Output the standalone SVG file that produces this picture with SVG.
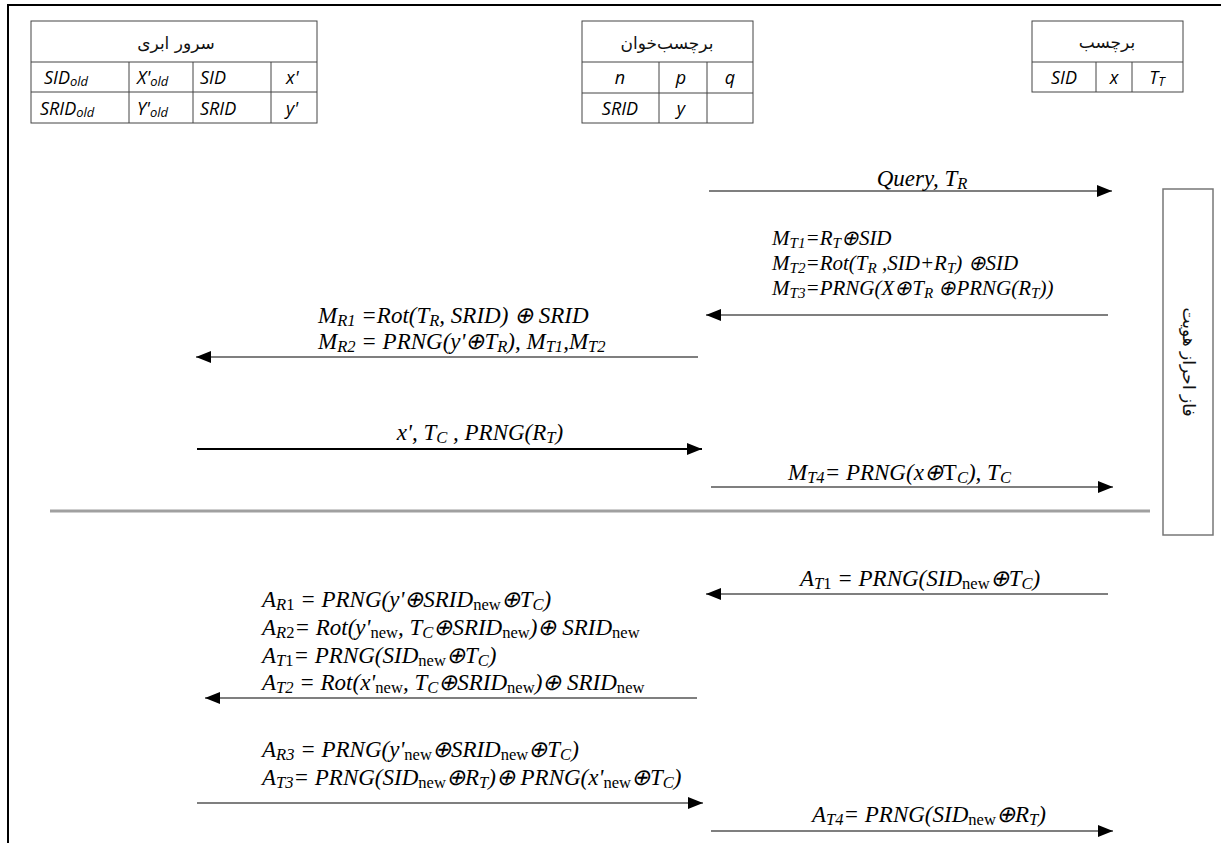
<svg xmlns="http://www.w3.org/2000/svg" width="1221" height="843" viewBox="0 0 1221 843">
<style>
.frame{stroke:#000;stroke-width:2;fill:none}
.tb{fill:#fff;stroke:#444;stroke-width:1}
.tl{stroke:#444;stroke-width:1}
.fa{font-family:"DejaVu Sans","Noto Sans",sans-serif;font-size:17px;fill:#111}
.tc{font-family:"Open Sans","DejaVu Sans",sans-serif;font-style:italic;font-size:18px;fill:#000}
.ts{font-size:72%;baseline-shift:-0.15em}
.m{font-family:"Liberation Serif","Times New Roman",serif;font-style:italic;font-size:23px;fill:#000}
.mt{font-size:21px}
.s{font-size:72%;baseline-shift:-0.2em}
.u{font-style:normal}
.ar{stroke:#000;stroke-width:1.2;fill:none;marker-end:url(#ah)}
.ar2{stroke:#000;stroke-width:2;fill:none;marker-end:url(#ah)}
.sep{stroke:#a0a0a0;stroke-width:3}
</style>
<defs>
<marker id="ah" markerUnits="userSpaceOnUse" markerWidth="16" markerHeight="12" refX="15" refY="6" orient="auto">
<path d="M0,0 L15,6 L0,12 z" fill="#000"/>
</marker>
</defs>
<rect x="0" y="0" width="1221" height="843" fill="#fff"/>
<path class="frame" d="M8,843 L8,5 L1221,5"/>

<g id="cloud-server">
<rect class="tb" x="31" y="21" width="286" height="102"/>
<path class="tl" d="M31,62 H317 M31,92 H317 M129,62 V123 M193,62 V123 M271,62 V123"/>
<text class="fa" x="176" y="49" text-anchor="middle" direction="rtl">سرور ابری</text>
<text class="tc" x="44" y="84">SID<tspan class="ts">old</tspan></text>
<text class="tc" x="137" y="84">X'<tspan class="ts">old</tspan></text>
<text class="tc" x="200" y="84">SID</text>
<text class="tc" x="286" y="84">x'</text>
<text class="tc" x="40" y="115">SRID<tspan class="ts">old</tspan></text>
<text class="tc" x="137" y="115">Y'<tspan class="ts">old</tspan></text>
<text class="tc" x="200" y="115">SRID</text>
<text class="tc" x="286" y="115">y'</text>
</g>

<g id="reader">
<rect class="tb" x="582" y="21" width="171" height="102"/>
<path class="tl" d="M582,62 H753 M582,93 H753 M659,62 V123 M707,62 V123"/>
<text class="fa" x="667" y="49" text-anchor="middle" direction="rtl">برچسب‌خوان</text>
<text class="tc" x="620" y="84" text-anchor="middle">n</text>
<text class="tc" x="681" y="84" text-anchor="middle">p</text>
<text class="tc" x="730" y="84" text-anchor="middle">q</text>
<text class="tc" x="620" y="115" text-anchor="middle">SRID</text>
<text class="tc" x="681" y="115" text-anchor="middle">y</text>
</g>

<g id="tag">
<rect class="tb" x="1032" y="21" width="151" height="71"/>
<path class="tl" d="M1032,62 H1183 M1096,62 V92 M1132,62 V92"/>
<text class="fa" x="1107" y="48" text-anchor="middle" direction="rtl">برچسب</text>
<text class="tc" x="1064" y="84" text-anchor="middle">SID</text>
<text class="tc" x="1114" y="84" text-anchor="middle">x</text>
<text class="tc" x="1157" y="84" text-anchor="middle">T<tspan class="ts">T</tspan></text>
</g>

<g id="auth-phase">
<rect x="1163" y="189" width="50" height="346" fill="#fff" stroke="#777" stroke-width="1.5"/>
<text class="fa" x="0" y="0" font-size="15" text-anchor="middle" direction="rtl" transform="translate(1183,362) rotate(90)">فاز احراز هویت</text>
</g>

<line class="sep" x1="50" y1="511" x2="1150" y2="511"/>

<g id="connectors">
<line class="ar" x1="709" y1="191" x2="1112" y2="191"/>
<line class="ar" x1="1108" y1="315" x2="706" y2="315"/>
<line class="ar" x1="698" y1="357" x2="196" y2="357"/>
<line class="ar2" x1="197" y1="449" x2="702" y2="449"/>
<line class="ar" x1="711" y1="487" x2="1113" y2="487"/>
<line class="ar" x1="1108" y1="594" x2="706" y2="594"/>
<line class="ar" x1="697" y1="698" x2="205" y2="698"/>
<line class="ar" x1="197" y1="803" x2="703" y2="803"/>
<line class="ar" x1="711" y1="831" x2="1113" y2="831"/>
</g>

<g id="labels">
<text class="m" x="922" y="186" text-anchor="middle">Query, T<tspan class="s">R</tspan></text>
<text class="m mt" x="772" y="245">M<tspan class="s">T1</tspan>=R<tspan class="s">T</tspan>⊕SID</text>
<text class="m mt" x="772" y="270">M<tspan class="s">T2</tspan>=Rot(T<tspan class="s">R</tspan> ,SID+R<tspan class="s">T</tspan>) ⊕SID</text>
<text class="m mt" x="772" y="295">M<tspan class="s">T3</tspan>=PRNG(X⊕T<tspan class="s">R</tspan> ⊕PRNG(R<tspan class="s">T</tspan>))</text>
<text class="m" x="318" y="323">M<tspan class="s">R1</tspan> =Rot(T<tspan class="s">R</tspan>, SRID) ⊕ SRID</text>
<text class="m" x="318" y="349">M<tspan class="s">R2</tspan> = PRNG(y'⊕T<tspan class="s">R</tspan>), M<tspan class="s">T1</tspan>,M<tspan class="s">T2</tspan></text>
<text class="m" x="480" y="440" text-anchor="middle">x', T<tspan class="s">C</tspan> , PRNG(R<tspan class="s">T</tspan>)</text>
<text class="m" x="788" y="480">M<tspan class="s">T4</tspan>= PRNG(x⊕<tspan class="u">T</tspan><tspan class="s">C</tspan>), T<tspan class="s">C</tspan></text>
<text class="m" x="800" y="586">A<tspan class="s">T<tspan class="u">1</tspan></tspan> = PRNG(SID<tspan class="s u">new</tspan>⊕T<tspan class="s">C</tspan>)</text>
<text class="m" x="262" y="607">A<tspan class="s">R<tspan class="u">1</tspan></tspan> = PRNG(y'⊕SRID<tspan class="s u">new</tspan>⊕T<tspan class="s">C</tspan>)</text>
<text class="m" x="262" y="635">A<tspan class="s">R<tspan class="u">2</tspan></tspan>= Rot(y'<tspan class="s u">new</tspan>, T<tspan class="s">C</tspan>⊕SRID<tspan class="s u">new</tspan>)⊕ SRID<tspan class="s u">new</tspan></text>
<text class="m" x="262" y="663">A<tspan class="s">T<tspan class="u">1</tspan></tspan>= PRNG(SID<tspan class="s u">new</tspan>⊕T<tspan class="s">C</tspan>)</text>
<text class="m" x="262" y="690">A<tspan class="s">T2</tspan> = Rot(x'<tspan class="s u">new</tspan>, T<tspan class="s">C</tspan>⊕SRID<tspan class="s u">new</tspan>)⊕ SRID<tspan class="s u">new</tspan></text>
<text class="m" x="262" y="757">A<tspan class="s">R3</tspan> = PRNG(y'<tspan class="s u">new</tspan>⊕SRID<tspan class="s u">new</tspan>⊕T<tspan class="s">C</tspan>)</text>
<text class="m" x="262" y="785">A<tspan class="s">T3</tspan>= PRNG(SID<tspan class="s u">new</tspan>⊕R<tspan class="s">T</tspan>)⊕ PRNG(x'<tspan class="s u">new</tspan>⊕T<tspan class="s">C</tspan>)</text>
<text class="m" x="812" y="822">A<tspan class="s">T4</tspan>= PRNG(SID<tspan class="s u">new</tspan>⊕R<tspan class="s">T</tspan>)</text>
</g>
</svg>
